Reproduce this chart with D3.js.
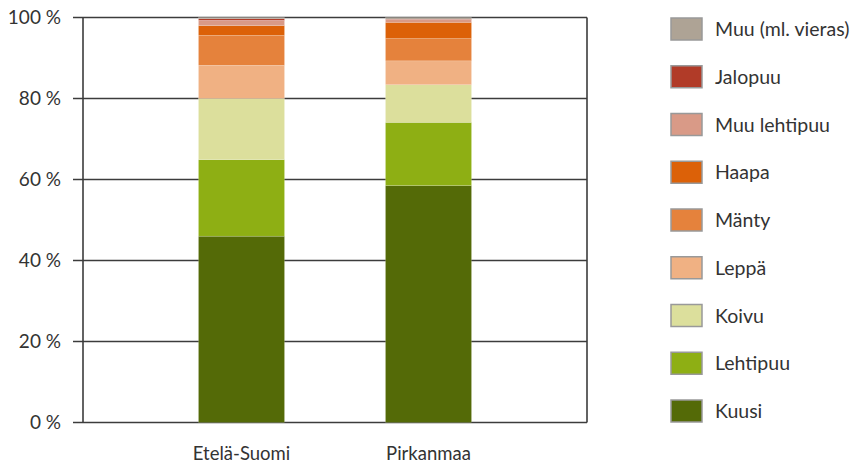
<!DOCTYPE html>
<html>
<head>
<meta charset="utf-8">
<script src="https://cdn.jsdelivr.net/npm/d3@7"></script>
<style>
  html, body { margin: 0; padding: 0; background: #fff; }
  svg { display: block; font-family: Lato, "Open Sans", sans-serif; }
</style>
</head>
<body>
<svg id="chart" width="857" height="465"></svg>
<script>
// Regions (x categories)
const regions = ["Etelä-Suomi", "Pirkanmaa"];

// Tree species, stacked bottom to top
const species = ["Kuusi", "Lehtipuu", "Koivu", "Leppä", "Mänty", "Haapa", "Muu lehtipuu", "Jalopuu", "Muu (ml. vieras)"];

// Share of each species (%) per region
const eteläSuomi = [46.0, 18.9, 15.1, 8.2, 7.4, 2.4, 1.3, 0.4, 0.3];
const pirkanmaa  = [58.5, 15.6,  9.3, 5.9, 5.5, 4.0, 0.7, 0.1, 0.4];

const colours = ["#546a07", "#8eaf14", "#dcdf9c", "#f0b183", "#e5823c", "#dc6108", "#d99a87", "#b13b28", "#aea395"];

const yTicks = [0, 20, 40, 60, 80, 100];

const svg = d3.select("#chart");
const plot = { left: 83, right: 587, top: 17.5, bottom: 422.5 };

const rows = regions.map((r, i) => {
  const vals = [eteläSuomi, pirkanmaa][i];
  const o = { region: r };
  species.forEach((s, j) => o[s] = vals[j]);
  return o;
});

const stack = d3.stack().keys(species)(rows);

const x = d3.scaleBand()
  .domain(regions)
  .range([plot.left, plot.right])
  .paddingInner(0.54)
  .paddingOuter(0.6176);

const y = d3.scaleLinear().domain([0, 100]).range([plot.bottom, plot.top]);

const colour = d3.scaleOrdinal().domain(species).range(colours);

// Horizontal gridlines
svg.append("g")
  .selectAll("line")
  .data(yTicks)
  .join("line")
  .attr("x1", plot.left - 10)
  .attr("x2", plot.right)
  .attr("y1", d => y(d))
  .attr("y2", d => y(d))
  .attr("stroke", "#3c3c3c")
  .attr("stroke-width", 1.6);

// Stacked bars
svg.append("g")
  .selectAll("g")
  .data(stack)
  .join("g")
  .attr("fill", d => colour(d.key))
  .selectAll("rect")
  .data(d => d)
  .join("rect")
  .attr("x", d => x(d.data.region))
  .attr("width", x.bandwidth())
  .attr("y", d => y(d[1]))
  .attr("height", d => y(d[0]) - y(d[1]))
  .attr("stroke", "rgba(255,255,255,0.25)")
  .attr("stroke-width", 0.6);

// Frame: left axis and right edge
svg.append("line")
  .attr("x1", plot.left).attr("x2", plot.left)
  .attr("y1", plot.top).attr("y2", plot.bottom)
  .attr("stroke", "#3c3c3c").attr("stroke-width", 1.6);
svg.append("line")
  .attr("x1", plot.right).attr("x2", plot.right)
  .attr("y1", plot.top).attr("y2", plot.bottom)
  .attr("stroke", "#3c3c3c").attr("stroke-width", 1.6);

// Y axis labels
const yAxis = d3.axisLeft(y)
  .tickValues(yTicks)
  .tickSize(0)
  .tickPadding(22)
  .tickFormat(d => d + " %");
const gy = svg.append("g")
  .attr("transform", `translate(${plot.left},0)`)
  .call(yAxis);
gy.select(".domain").remove();
gy.selectAll("text")
  .attr("font-family", "Lato, sans-serif")
  .attr("font-size", 19)
  .attr("fill", "#333");

// X axis labels
const xAxis = d3.axisBottom(x).tickSize(0).tickPadding(24);
const gx = svg.append("g")
  .attr("transform", `translate(0,${plot.bottom})`)
  .call(xAxis);
gx.select(".domain").remove();
gx.selectAll("text")
  .attr("font-family", "Lato, sans-serif")
  .attr("font-size", 18.5)
  .attr("fill", "#333");

// Legend, top entry is the topmost stack segment
const legendOrder = species.slice().reverse();
const legend = svg.append("g")
  .selectAll("g")
  .data(legendOrder)
  .join("g")
  .attr("transform", (d, i) => `translate(671,${18 + i * 47.75})`);

legend.append("rect")
  .attr("width", 31)
  .attr("height", 22)
  .attr("fill", d => colour(d))
  .attr("stroke", "#999")
  .attr("stroke-width", 1.5);

legend.append("text")
  .attr("x", 44)
  .attr("y", 11)
  .attr("dy", "0.36em")
  .attr("font-family", "Lato, sans-serif")
  .attr("font-size", 19.5)
  .attr("fill", "#333")
  .text(d => d);
</script>
</body>
</html>
